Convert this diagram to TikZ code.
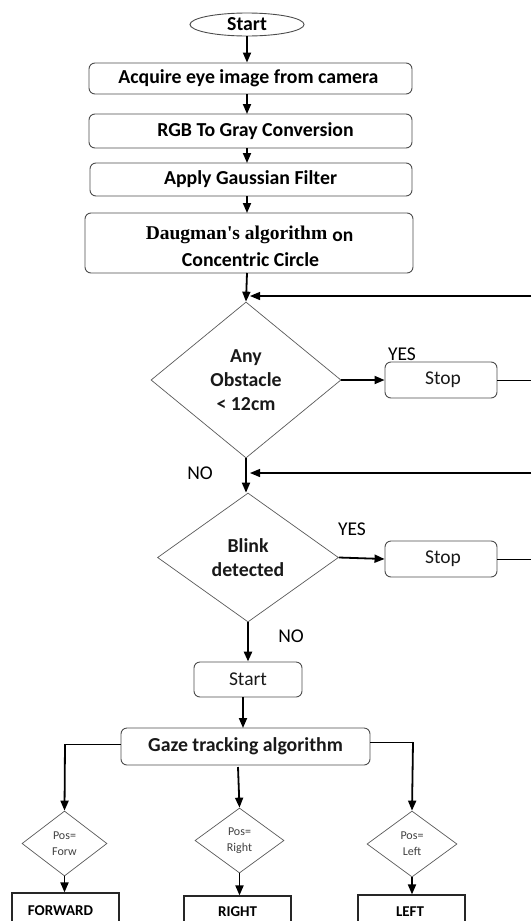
\documentclass[tikz,border=0pt]{standalone}
\usepackage{fontspec}
\setmainfont{Carlito}
\newfontfamily\serifbold{Liberation Serif}
\usetikzlibrary{shapes.geometric,arrows.meta,calc}
\tikzset{
  rbox/.style={draw=black!70, line width=0.9pt, rounded corners=6pt, inner sep=0pt, text=black!90},
  sbox/.style={draw=black!85, line width=1.2pt, inner sep=0pt, text=black!90},
  dia/.style={draw=black!65, line width=0.7pt, diamond, inner sep=0pt, align=center, text=black!90},
  arr/.style={line width=1.8pt, -{Triangle[length=10pt,width=8pt]}},
  thinarr/.style={line width=1.2pt, -{Triangle[length=10pt,width=8pt]}},
  plain/.style={line width=1pt},
  big/.style={font=\fontsize{19.5}{24}\selectfont},
  bigb/.style={font=\fontsize{19.8}{24}\selectfont\bfseries},
  small/.style={font=\fontsize{12}{16}\selectfont, text=black!75},
}
\begin{document}
\begin{tikzpicture}[x=1pt,y=-1pt]
\useasboundingbox (0,0) rectangle (531,921);
\clip (0,0) rectangle (531,921);
% nodes
\node[draw=black!70, line width=0.9pt, ellipse, minimum width=114pt, minimum height=23pt, inner sep=0pt, bigb] (st) at (247,24.5) {Start};
\node[rbox, minimum width=323pt, minimum height=31pt] (b1) at (250.5,78.5) {};
\node[bigb] at (248.5,78.5) {Acquire eye image from camera};
\node[rbox, minimum width=323pt, minimum height=34pt] (b2) at (250.5,131) {};
\node[bigb] at (255.5,131) {RGB To Gray Conversion};
\node[rbox, minimum width=322pt, minimum height=33pt] (b3) at (251,179.5) {};
\node[bigb] at (250.5,179.5) {Apply Gaussian Filter};
\node[rbox, minimum width=328pt, minimum height=60pt] (b4) at (249,243) {};
\node[anchor=base, inner sep=0pt] at (249.5,239) {{\serifbold\bfseries\fontsize{19.5}{24}\selectfont Daugman\textquotesingle s algorithm}\hspace{5pt}\raisebox{-2pt}{\fontsize{19.5}{24}\selectfont\bfseries on}};
\node[bigb] at (250.5,259.5) {Concentric Circle};

\node[dia, bigb, minimum width=190pt, minimum height=156pt] (d1) at (246,380) {Any\\Obstacle\\{<} 12cm};
\node[rbox, big, minimum width=112pt, minimum height=36pt] (s1) at (441,380) {\hspace*{4pt}Stop};
\node[big, anchor=base] at (402,360) {YES};
\node[big] at (200,473) {NO};

\node[dia, bigb, minimum width=181pt, minimum height=129pt] (d2) at (248,557.5) {Blink\\detected};
\node[rbox, big, minimum width=112pt, minimum height=36pt] (s2) at (441,559) {\hspace*{4pt}Stop};
\node[big] at (352,529) {YES};
\node[big] at (291,636) {NO};

\node[rbox, big, minimum width=108pt, minimum height=35pt] (s3) at (248,679.5) {Start};
\node[rbox, bigb, minimum width=249pt, minimum height=37pt] (g) at (245.5,746.5) {Gaze tracking algorithm};

\node[dia, small, minimum width=85pt, minimum height=65pt] (pl) at (64.5,843.5) {Pos=\\Forw};
\node[dia, small, minimum width=89pt, minimum height=65pt] (pm) at (239.5,840.5) {Pos=\\Right};
\node[dia, small, minimum width=90pt, minimum height=66pt] (pr) at (412,844) {Pos=\\Left};

\node[sbox, minimum width=107pt, minimum height=60pt] (fw) at (65.5,923) {};
\node[font=\fontsize{15}{18}\selectfont\bfseries] at (60.5,911) {FORWARD};
\node[sbox, minimum width=107pt, minimum height=60pt] (ri) at (237.5,926) {};
\node[font=\fontsize{15}{18}\selectfont\bfseries] at (237.5,912) {RIGHT};
\node[sbox, minimum width=107pt, minimum height=60pt] (le) at (411.5,925) {};
\node[font=\fontsize{15}{18}\selectfont\bfseries] at (410,912) {LEFT};

% coordinates
\coordinate (e1) at (531,296);
\coordinate (t1) at (250,296);
\coordinate (e2) at (531,473);
\coordinate (t2) at (250,473);
\coordinate (edge) at (531,0);

% connectors
\draw[arr] (st.south) -- (st.south |- b1.north);
\draw[arr] (247,94) -- (247,114);
\draw[arr] (247,148) -- (247,163);
\draw[arr] (247,196) -- (247,213);
\draw[arr] (247,273) -- (d1.north);
\draw[thinarr] (e1) -- (t1);
\draw[arr] (d1.east) -- (s1.west);
\draw[plain] (s1.east) -- (s1.east -| edge);
\draw[arr] (d1.south) -- (d1.south |- d2.north);
\draw[thinarr] (e2) -- (t2);
\draw[arr] (d2.east) -- (s2.west);
\draw[plain] (s2.east) -- (s2.east -| edge);
\draw[line width=2.6pt, -{Triangle[length=10pt,width=8pt]}] (d2.south) -- (d2.south |- s3.north);
\draw[arr] (243,697) -- (243,728);
\draw[plain] (g.west |- 0,744) -- (65,744);
\draw[arr] (65,744) -- (pl.north);
\draw[arr] (238,767) -- (pm.north);
\draw[plain] (g.east |- 0,742) -- (413,742);
\draw[arr] (413,742) -- (pr.north);
\draw[arr] (pl.south) -- (pl.south |- fw.north);
\draw[arr] (pm.south) -- (pm.south |- ri.north);
\draw[arr] (pr.south) -- (pr.south |- le.north);
\end{tikzpicture}
\end{document}
